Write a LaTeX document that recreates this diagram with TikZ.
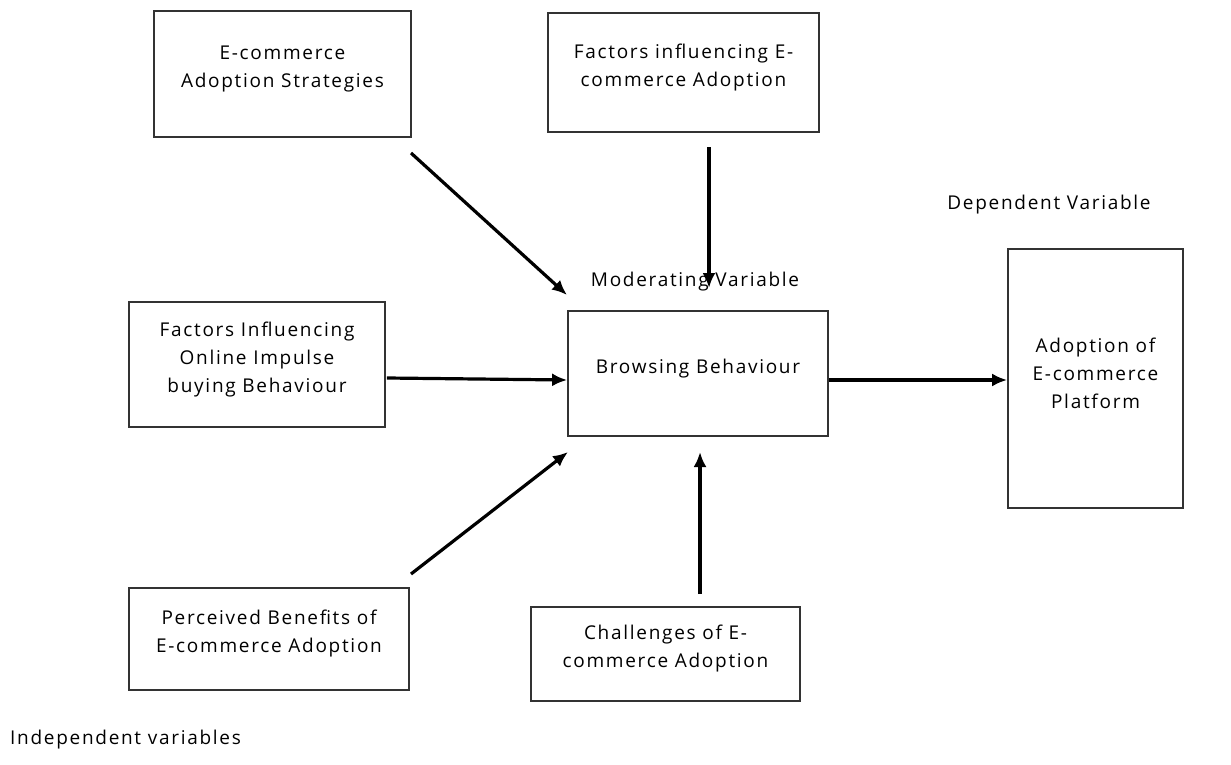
\documentclass[tikz,border=0pt]{standalone}
\usepackage{fontspec}
\setmainfont{Open Sans}[LetterSpace=9]
\usetikzlibrary{arrows.meta}
\begin{document}
\begin{tikzpicture}[x=1pt,y=-1pt,
  box/.style={draw=black!80,line width=1.7pt,inner sep=0pt},
  boxtxt/.style={align=center,inner sep=0pt,yshift=5pt,
    font=\fontsize{19}{28}\selectfont},
  lbl/.style={inner sep=0pt,font=\fontsize{19}{28}\selectfont},
  arr/.style={line width=3.2pt,-{Latex[length=15pt,width=13pt]}}]
\useasboundingbox (0,0) rectangle (1231,765);
\fill[white] (0,0) rectangle (1231,765);
% boxes
\node[box,minimum width=257pt,minimum height=126pt,
  label={[boxtxt]center:{E-commerce\\Adoption Strategies}}] (strat) at (282.5,74) {};
\node[box,minimum width=271pt,minimum height=119pt,
  label={[boxtxt]center:{Factors influencing E-\\commerce Adoption}}] (fact) at (683.5,72.5) {};
\node[box,minimum width=256pt,minimum height=125pt,
  label={[boxtxt]center:{Factors Influencing\\Online Impulse\\buying Behaviour}}] (impulse) at (257,364.5) {};
\node[box,minimum width=260pt,minimum height=125pt,
  label={[boxtxt]center:{Browsing Behaviour}}] (browse) at (698,373.5) {};
\node[box,minimum width=175pt,minimum height=259pt,
  label={[boxtxt]center:{Adoption of\\E-commerce\\Platform}}] (adopt) at (1095.5,378.5) {};
\node[box,minimum width=280pt,minimum height=102pt,
  label={[boxtxt]center:{Perceived Benefits of\\E-commerce Adoption}}] (benef) at (269,639) {};
\node[box,minimum width=269pt,minimum height=94pt,
  label={[boxtxt]center:{Challenges of E-\\commerce Adoption}}] (chall) at (665.5,654) {};
% labels
\node[lbl] (modlbl) at (695,282) {Moderating Variable};
\node[lbl] (deplbl) at (1049,205) {Dependent Variable};
\node[lbl,anchor=west] (indlbl) at (10,740) {Independent variables};
% arrow start points
\coordinate (s1) at (411,153);
\coordinate (e1) at (567,295);
\coordinate (s2) at (709,147);
\coordinate (e2) at (709,288);
\coordinate (s3) at ([xshift=1pt]impulse.east |- 0,378);
\coordinate (e3) at (browse.west |- 0,380);
\coordinate (s4) at (browse.east |- 0,380);
\coordinate (e4) at (adopt.west |- 0,380);
\coordinate (s5) at (411,574);
\coordinate (e5) at (568,452);
\coordinate (s6) at (700,594);
\coordinate (e6) at (700,452);
\draw[arr] (s1) -- (e1);
\draw[arr] (s2) -- (e2);
\draw[arr] (s3) -- (e3);
\draw[arr] (s4) -- (e4);
\draw[arr] (s5) -- (e5);
\draw[arr] (s6) -- (e6);
\end{tikzpicture}
\end{document}
